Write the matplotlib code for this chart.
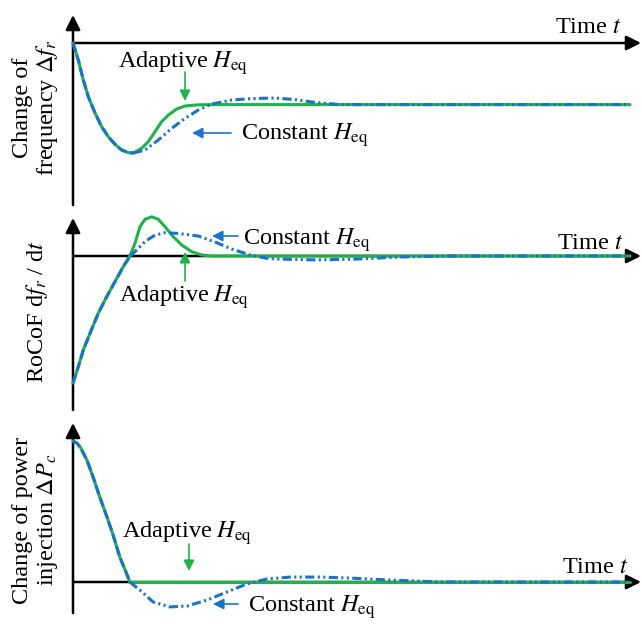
import matplotlib.pyplot as plt
from matplotlib.patches import FancyArrowPatch

plt.rcParams['font.family'] = ['Liberation Serif', 'DejaVu Serif']
plt.rcParams['mathtext.fontset'] = 'stix'

# ---- data (arbitrary units) ----
# panel 1: change of frequency
t_f_common = [0, 0.095, 0.185, 0.275, 0.395, 0.515, 0.634, 0.754, 0.874, 0.993, 1.083]
df_common = [0, -0.155, -0.336, -0.488, -0.636, -0.761, -0.852, -0.921, -0.973, -0.997, -1.0]
t_f_adapt = [1.083, 1.233, 1.352, 1.472, 1.592, 1.711, 1.862, 2.011, 2.25, 2.55, 10]
df_adapt = [-1.0, -0.957, -0.897, -0.806, -0.715, -0.655, -0.60, -0.573, -0.562, -0.56, -0.56]
t_f_const = [1.083, 1.293, 1.531, 1.772, 2.011, 2.25, 2.49, 2.849, 3.23, 3.63, 3.99, 4.34, 4.79, 10]
df_const = [-1.0, -0.973, -0.882, -0.776, -0.685, -0.609, -0.555, -0.518, -0.505, -0.50, -0.515, -0.54, -0.56, -0.56]

# panel 2: RoCoF
t_r_common = [0, 0.095, 0.185, 0.305, 0.454, 0.605, 0.754, 0.903, 1.023]
rocof_common = [-1.0, -0.872, -0.740, -0.609, -0.451, -0.320, -0.202, -0.084, 0]
t_r_adapt = [1.023, 1.113, 1.203, 1.293, 1.413, 1.531, 1.651, 1.80, 1.951, 2.13, 2.31, 2.49, 10]
rocof_adapt = [0, 0.10, 0.231, 0.289, 0.309, 0.289, 0.231, 0.152, 0.087, 0.034, 0.008, 0, 0]
t_r_const = [1.023, 1.113, 1.293, 1.472, 1.652, 1.89, 2.25, 2.55, 2.85, 3.18, 3.45, 3.66, 4.38, 5.10, 5.87, 6.77, 10]
rocof_const = [0, 0.034, 0.113, 0.165, 0.183, 0.178, 0.157, 0.11, 0.055, 0.008, -0.016, -0.024, -0.031, -0.024, -0.008, 0, 0]

# panel 3: change of power injection
t_p_common = [0, 0.07, 0.13, 0.25, 0.36, 0.48, 0.61, 0.72, 0.84, 0.95, 1.02]
dp_common = [1.0, 0.985, 0.957, 0.865, 0.745, 0.603, 0.461, 0.333, 0.177, 0.071, 0]
t_p_adapt = [1.02, 10]
dp_adapt = [0, 0]
t_p_const = [1.02, 1.2, 1.44, 1.74, 2.05, 2.41, 2.76, 3.12, 3.48, 3.9, 4.43, 4.97, 5.69, 6.59, 10]
dp_const = [0, -0.057, -0.142, -0.177, -0.170, -0.128, -0.071, -0.014, 0.021, 0.035, 0.035, 0.028, 0.014, 0, 0]

GREEN = '#1fb24a'
BLUE = '#1a73c8'
W, H = 642, 631
X0, XS = 73, 55.7
FS = 17.5

fig = plt.figure(figsize=(W / 100, H / 100), dpi=100)


def fpx(x, y):
    return (x / W, 1 - y / H)


def add_panel(top, bot, y0, ys, ax_top, ax_bot):
    ax = fig.add_axes([0, 1 - bot / H, 1, (bot - top) / H])
    ax.set_xlim(-X0 / XS, (W - X0) / XS)
    ax.set_ylim(-(bot - y0) / ys, -(top - y0) / ys)
    ax.axis('off')
    head = dict(arrowstyle='-|>', color='k', lw=1.8, mutation_scale=22,
                shrinkA=0, shrinkB=0)
    ax.annotate('', xy=(0, -(ax_top - y0) / ys), xytext=(0, -(ax_bot - y0) / ys),
                arrowprops=head)
    ax.annotate('', xy=((641 - X0) / XS, 0), xytext=(0, 0), arrowprops=head)
    return ax


def curves(ax, tc, vc, ta, va, tk, vk):
    kw = dict(lw=2.2, solid_capstyle='round', solid_joinstyle='round',
              dash_joinstyle='round')
    ax.plot(tc, vc, color=GREEN, zorder=3, **kw)
    ax.plot(ta, va, color=GREEN, zorder=3, **kw)
    ax.plot(tc, vc, color=BLUE, linestyle=(0, (3, 1.2)), zorder=4, **kw)
    ax.plot(tk, vk, color=BLUE, linestyle=(0, (3, 1.1, 0.7, 1.1, 0.7, 1.1)), zorder=4, **kw)


def label(x, y, s):
    fig.text(*fpx(x, y), s, fontsize=FS, ha='left', va='baseline')


def pointer(x1, y1, x2, y2, c):
    fig.add_artist(FancyArrowPatch(
        fpx(x1, y1), fpx(x2, y2), transform=fig.transFigure,
        arrowstyle='-|>', color=c, lw=1.2, mutation_scale=16,
        shrinkA=0, shrinkB=0))


ax1 = add_panel(0, 210, 43, 110, 15, 205)
curves(ax1, t_f_common, df_common, t_f_adapt, df_adapt, t_f_const, df_const)
ax2 = add_panel(210, 415, 256, 127, 218, 410)
curves(ax2, t_r_common, rocof_common, t_r_adapt, rocof_adapt, t_r_const, rocof_const)
ax3 = add_panel(415, 631, 582, 141, 423, 613)
curves(ax3, t_p_common, dp_common, t_p_adapt, dp_adapt, t_p_const, dp_const)

# panel 1 texts
label(118, 68, r'Adaptive $H_{\mathrm{eq}}$')
label(241, 140, r'Constant $H_{\mathrm{eq}}$')
label(555, 33, r'Time $t$')
pointer(185, 72, 185, 101, GREEN)
pointer(231, 133, 192, 133, BLUE)

# panel 2 texts
label(243, 245, r'Constant $H_{\mathrm{eq}}$')
label(557, 249, r'Time $t$')
label(119, 302, r'Adaptive $H_{\mathrm{eq}}$')
pointer(238, 236, 212, 236, BLUE)
pointer(185, 281, 185, 252, GREEN)

# panel 3 texts
label(122, 538, r'Adaptive $H_{\mathrm{eq}}$')
label(248, 612, r'Constant $H_{\mathrm{eq}}$')
label(562, 573, r'Time $t$')
pointer(189, 544, 189, 571, GREEN)
pointer(238, 604, 213, 604, BLUE)

# y-axis labels
fig.text(*fpx(36, 108), 'Change of\nfrequency $\\Delta f_r$', fontsize=FS,
         rotation=90, ha='center', va='center', linespacing=1.1, multialignment='center')
fig.text(*fpx(37, 312), 'RoCoF d$f_r$ / d$t$', fontsize=FS,
         rotation=90, ha='center', va='center')
fig.text(*fpx(36, 520), 'Change of power\ninjection $\\Delta P_c$', fontsize=FS,
         rotation=90, ha='center', va='center', linespacing=1.1, multialignment='center')

fig.savefig('out.png', dpi=100)
